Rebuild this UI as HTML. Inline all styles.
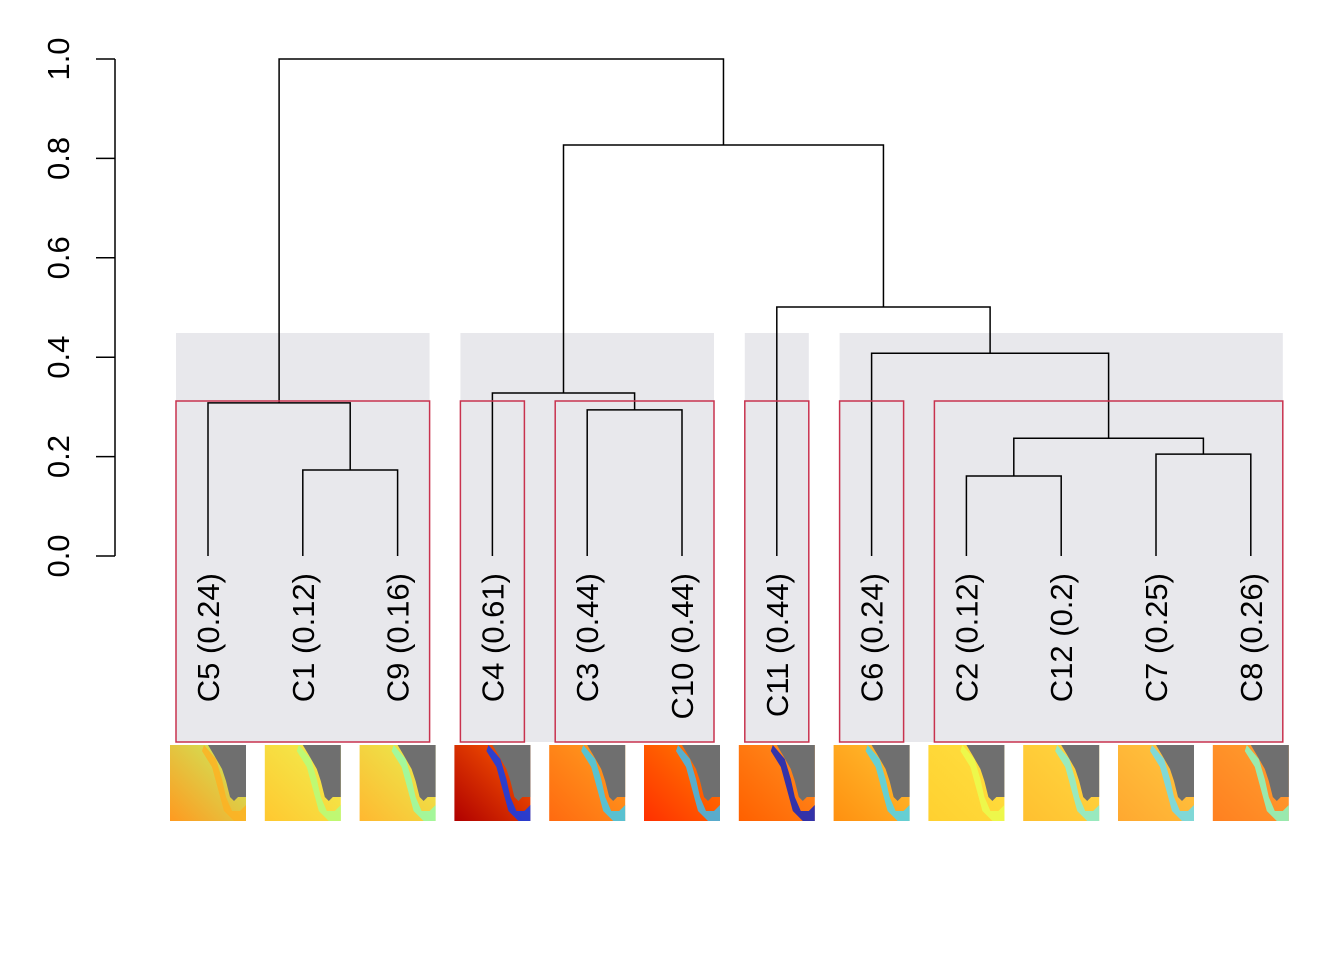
<!DOCTYPE html>
<html><head><meta charset="utf-8"><style>body{margin:0;background:#fff}svg{display:block}</style></head>
<body>
<svg id="c" width="1344" height="960" xmlns="http://www.w3.org/2000/svg" font-family="Liberation Sans, sans-serif">
</svg>
<script>
const leaves=["C5 (0.24)","C1 (0.12)","C9 (0.16)","C4 (0.61)","C3 (0.44)","C10 (0.44)","C11 (0.44)","C6 (0.24)","C2 (0.12)","C12 (0.2)","C7 (0.25)","C8 (0.26)"];
// merges: [leftNode,rightNode,height]; leaves are 0..11, merges are 12+
const merges=[[1,2,0.173],[0,12,0.308],[4,5,0.294],[3,14,0.328],[8,9,0.161],[10,11,0.205],[16,17,0.237],[7,18,0.408],[6,19,0.501],[15,20,0.827],[13,21,1.0]];
const yTicks=[0,0.2,0.4,0.6,0.8,1.0];
const yTickLabels=["0.0","0.2","0.4","0.6","0.8","1.0"];
const grayGroups=[[0,2],[3,5],[6,6],[7,11]];
const redGroups=[[0,2],[3,3],[4,5],[6,6],[7,7],[8,11]];
const thumbColors=[["#ff9a20","#c8f060"],["#ffc830","#f0f050"],["#ffb830","#e8f050"],["#b00000","#ff6000"],["#ff6a10","#ffa020"],["#ff3000","#ff8000"],["#ff6000","#ff9020"],["#ff9010","#ffc030"],["#ffd030","#ffe040"],["#ffc030","#ffd840"],["#ffa830","#ffc840"],["#ff8020","#ffa030"]];
const coastColors=["#ffb020","#b0ff80","#90ffb0","#0040ff","#30d0ff","#30c0ff","#0020d0","#40d8ff","#e8ff50","#80f0e0","#60e0ff","#80ffd0"];

const svg=document.getElementById('c');const NS="http://www.w3.org/2000/svg";
const X=i=>208+i*94.8;const Y=v=>556-v*497;
function mk(t,a,p){const e=document.createElementNS(NS,t);for(const k in a)e.setAttribute(k,a[k]);(p||svg).appendChild(e);return e;}
grayGroups.forEach((g,i)=>{const r=mk('rect',{x:X(g[0])-32,y:333,width:X(g[1])-X(g[0])+64,height:409,fill:'#e8e8ec'});
});
const ax=mk('g',{});
mk('line',{x1:115,x2:115,y1:Y(0),y2:Y(1),stroke:'#000','stroke-width':1.5},ax);
yTicks.forEach((v,i)=>{mk('line',{x1:96,x2:115,y1:Y(v),y2:Y(v),stroke:'#000','stroke-width':1.5},ax);
const t=mk('text',{x:0,y:0,transform:`translate(69,${Y(v)}) rotate(-90)`,'text-anchor':'middle','font-size':31},ax);t.textContent=yTickLabels[i];
});
const nodes=leaves.map((l,i)=>({x:X(i),h:0}));
const dg=mk('g',{fill:'none',stroke:'#000','stroke-width':1.5});
merges.forEach(m=>{const a=nodes[m[0]],b=nodes[m[1]],h=m[2];
const p=mk('path',{d:`M${a.x},${Y(a.h)}V${Y(h)}H${b.x}V${Y(b.h)}`},dg);

nodes.push({x:(a.x+b.x)/2,h:h});});
redGroups.forEach((g,i)=>{const r=mk('rect',{x:X(g[0])-32,y:401,width:X(g[1])-X(g[0])+64,height:341,fill:'none',stroke:'#c8324e','stroke-width':1.5});
});
leaves.forEach((l,i)=>{const t=mk('text',{x:0,y:0,transform:`translate(${X(i)+11},573) rotate(-90)`,'text-anchor':'end','font-size':31});t.textContent=l;

const g=mk('g',{transform:`translate(${X(i)-38},745)`});
const id='gr'+i;const d=mk('defs',{},g);const lg=mk('linearGradient',{id:id,x1:1,y1:0,x2:0,y2:1},d);
mk('stop',{offset:0,'stop-color':thumbColors[i][1]},lg);mk('stop',{offset:1,'stop-color':thumbColors[i][0]},lg);
mk('rect',{x:0,y:0,width:76,height:76,fill:`url(#${id})`},g);
mk('polygon',{points:'34,0 46,14 52,34 56,52 62,66 70,66 76,60 76,76 64,76 54,66 48,44 42,22 32,6',fill:coastColors[i],opacity:0.8},g);
mk('polygon',{points:'38,0 76,0 76,52 68,52 64,56 60,52 56,36 52,24 44,10',fill:'#6f6f6f'},g);});
</script>
</body></html>
